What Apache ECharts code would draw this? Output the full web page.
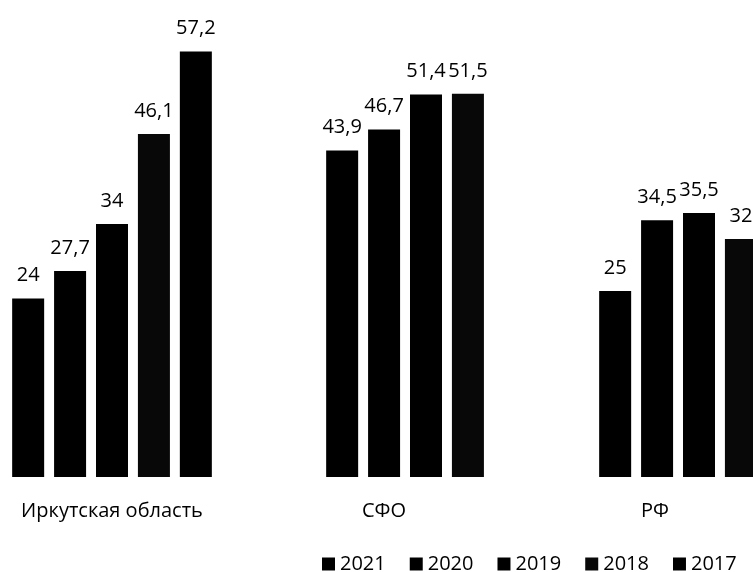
<!DOCTYPE html>
<html>
<head>
<meta charset="utf-8">
<script src="https://cdn.jsdelivr.net/npm/echarts@6/dist/echarts.min.js"></script>
<style>
html,body{margin:0;padding:0;background:#fff;}
#chart{width:753px;height:572px;}
</style>
</head>
<body>
<div id="chart"></div>
<script>
const categories = ['Иркутская область', 'СФО', 'РФ'];
const years = ['2021', '2020', '2019', '2018', '2017'];
const v2021 = [24, 43.9, 25];
const v2020 = [27.7, 46.7, 34.5];
const v2019 = [34, 51.4, 35.5];
const v2018 = [46.1, 51.5, 32];
const v2017 = [57.2, null, null];
const seriesValues = [v2021, v2020, v2019, v2018, v2017];

const FONT = '"Open Sans", "Noto Sans", sans-serif';
const colors = ['#000000', '#000000', '#000000', '#080808', '#000000'];
// grid placement for each category (left edge, width)
const gridPos = [[2, 220], [316, 220], [645, 108]];
const labelShift = [0, 84, 88];

const grids = [], xAxes = [], yAxes = [], series = [];
categories.forEach((cat, i) => {
  grids.push({left: gridPos[i][0], width: gridPos[i][1], top: 30.6, bottom: 95, containLabel: false});
  xAxes.push({
    type: 'category', gridIndex: i, data: [cat],
    axisLine: {show: false}, axisTick: {show: false}, splitLine: {show: false},
    axisLabel: {
      interval: 0, margin: 24, color: '#000', fontFamily: FONT, fontSize: 20,
      formatter: (v) => '{a|' + v + '}',
      rich: {a: {fontFamily: FONT, fontSize: 20, color: '#000', padding: [0, labelShift[i], 0, 0]}}
    }
  });
  yAxes.push({type: 'value', gridIndex: i, min: 0, max: 60, show: false, splitLine: {show: false}});
  years.forEach((y, j) => {
    series.push({
      name: y, type: 'bar', xAxisIndex: i, yAxisIndex: i,
      data: [seriesValues[j][i]],
      barWidth: 32, barGap: '31%', clip: false,
      itemStyle: {color: colors[j]},
      label: {
        show: true, position: 'top', distance: 13, color: '#000',
        fontFamily: FONT, fontSize: 20,
        formatter: (p) => String(p.value).replace('.', ',')
      }
    });
  });
});

const chart = echarts.init(document.getElementById('chart'), null, {renderer: 'canvas'});
chart.setOption({
  animation: false,
  backgroundColor: '#fff',
  grid: grids, xAxis: xAxes, yAxis: yAxes,
  legend: {
    data: years, left: 317, top: 549, itemWidth: 13, itemHeight: 13, itemGap: 24,
    icon: 'rect',
    textStyle: {fontFamily: FONT, fontSize: 20, color: '#000'}
  },
  series: series
});
</script>
</body>
</html>
